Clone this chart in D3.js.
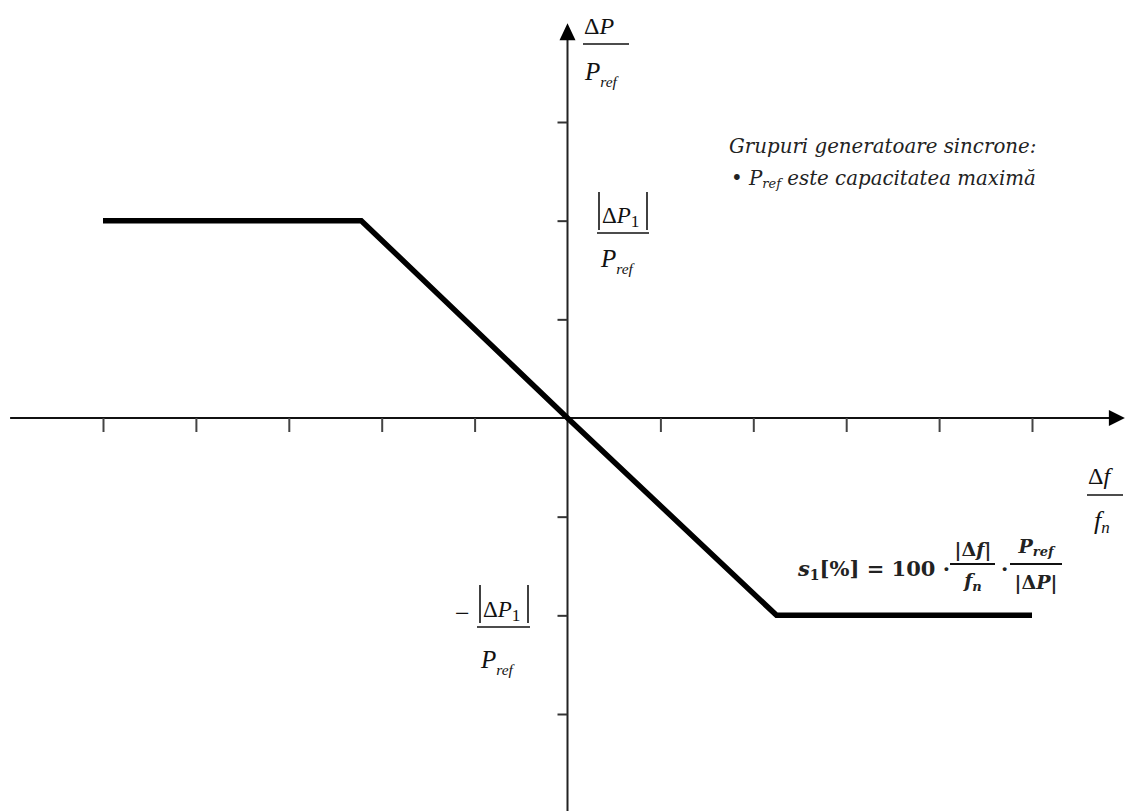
<!DOCTYPE html>
<meta charset="utf-8">
<style>
  body { margin: 0; background: #fff; }
  .lbl { font-family: "Liberation Serif", serif; fill: #111; }
  .note { font-family: "DejaVu Serif", serif; font-style: italic; fill: #222; }
  .eq { font-family: "DejaVu Serif", serif; font-weight: bold; fill: #222; }
</style>
<body>
<script src="https://cdnjs.cloudflare.com/ajax/libs/d3/7.8.5/d3.min.js"></script>
<script>
  // droop characteristic (per-unit)
  var droopX = [-5, -2.22, 0, 2.25, 5];
  var droopY = [2, 2, 0, -2, -2];
  var xTicks = [-5, -4, -3, -2, -1, 1, 2, 3, 4, 5];
  var yTicks = [-3, -2, -1, 1, 2, 3];
  var noteLines = ["Grupuri generatoare sincrone:", "este capacitatea maximă"];

  var width = 1134, height = 811;

  var x = d3.scaleLinear().domain([-5, 5]).range([103, 1032]);
  var y = d3.scaleLinear().domain([-3, 3]).range([714, 122]);

  var svg = d3.select("body").append("svg")
    .attr("width", width)
    .attr("height", height);

  // x axis line + arrow
  svg.append("line")
    .attr("x1", x(-6)).attr("x2", x(6) - 10)
    .attr("y1", y(0)).attr("y2", y(0))
    .attr("stroke", "#111").attr("stroke-width", 2);
  svg.append("path")
    .attr("d", "M" + x(6) + "," + y(0) + "l-16,-8l0,16z")
    .attr("fill", "#000");

  // y axis line + arrow
  svg.append("line")
    .attr("x1", x(0)).attr("x2", x(0))
    .attr("y1", y(-4)).attr("y2", y(4) + 10)
    .attr("stroke", "#222").attr("stroke-width", 2);
  svg.append("path")
    .attr("d", "M" + x(0) + "," + y(4) + "l-8,17l16,0z")
    .attr("fill", "#000");

  // ticks
  var gx = svg.append("g")
    .attr("transform", "translate(0," + y(0) + ")")
    .call(d3.axisBottom(x).tickValues(xTicks).tickSize(14).tickSizeOuter(0).tickFormat(""));
  gx.select(".domain").remove();
  gx.selectAll(".tick line").attr("stroke", "#444").attr("stroke-width", 2);

  var gy = svg.append("g")
    .attr("transform", "translate(" + x(0) + ",0)")
    .call(d3.axisLeft(y).tickValues(yTicks).tickSize(10).tickSizeOuter(0).tickFormat(""));
  gy.select(".domain").remove();
  gy.selectAll(".tick line").attr("stroke", "#333").attr("stroke-width", 2);

  // droop line
  var pts = droopX.map(function (d, i) { return [d, droopY[i]]; });
  svg.append("path")
    .datum(pts)
    .attr("fill", "none")
    .attr("stroke", "#000")
    .attr("stroke-width", 5.5)
    .attr("stroke-linejoin", "miter")
    .attr("d", d3.line().x(function (d) { return x(d[0]); }).y(function (d) { return y(d[1]); }));

  // helpers
  function pref(sel, px, py, size) {
    var t = sel.append("text").attr("class", "lbl").attr("x", px).attr("y", py)
      .style("font-size", size + "px").style("font-style", "italic");
    t.append("tspan").text("P");
    t.append("tspan").attr("dy", size * 0.28).style("font-size", (size * 0.62) + "px").text("ref");
    return t;
  }
  function bar(sel, x1, x2, yy, w) {
    sel.append("line").attr("x1", x1).attr("x2", x2).attr("y1", yy).attr("y2", yy)
      .attr("stroke", "#111").attr("stroke-width", w || 1.5);
  }
  function vbar(sel, xx, y1, y2) {
    sel.append("line").attr("x1", xx).attr("x2", xx).attr("y1", y1).attr("y2", y2)
      .attr("stroke", "#111").attr("stroke-width", 1.6);
  }
  function dp1(sel, px, py, size) {
    var t = sel.append("text").attr("class", "lbl").attr("x", px).attr("y", py)
      .style("font-size", size + "px");
    t.append("tspan").text("Δ");
    t.append("tspan").style("font-style", "italic").text("P");
    t.append("tspan").attr("dy", 4).style("font-size", (size * 0.75) + "px").text("1");
  }

  // y axis label ΔP / Pref
  var ly = svg.append("g");
  var t1 = ly.append("text").attr("class", "lbl").attr("x", 584).attr("y", 34).style("font-size", "24px");
  t1.append("tspan").text("Δ");
  t1.append("tspan").style("font-style", "italic").text("P");
  bar(ly, 583, 629, 44);
  pref(ly, 585, 80, 25);

  // x axis label Δf / fn
  var lx = svg.append("g");
  var t2 = lx.append("text").attr("class", "lbl").attr("x", 1088).attr("y", 484).style("font-size", "24px");
  t2.append("tspan").text("Δ");
  t2.append("tspan").style("font-style", "italic").text("f");
  bar(lx, 1087, 1123, 495);
  var t3 = lx.append("text").attr("class", "lbl").attr("x", 1094).attr("y", 529).style("font-size", "26px").style("font-style", "italic");
  t3.append("tspan").text("f");
  t3.append("tspan").attr("dy", 4).style("font-size", "17px").text("n");

  // upper level |ΔP1| / Pref
  var lu = svg.append("g");
  vbar(lu, 599, 192, 230);
  dp1(lu, 602, 223, 23);
  vbar(lu, 647, 192, 230);
  bar(lu, 597, 649, 233);
  pref(lu, 601, 267, 25);

  // lower level −|ΔP1| / Pref
  var ll = svg.append("g");
  ll.append("text").attr("class", "lbl").attr("x", 455).attr("y", 622).style("font-size", "26px").text("−");
  vbar(ll, 480, 585, 623);
  dp1(ll, 483, 617, 23);
  vbar(ll, 528, 585, 623);
  bar(ll, 477, 530, 627);
  pref(ll, 481, 668, 25);

  // note
  svg.append("text").attr("class", "note").attr("x", 729).attr("y", 153)
    .style("font-size", "19.8px").text(noteLines[0]);
  var n2 = svg.append("text").attr("class", "note").attr("x", 731).attr("y", 185).style("font-size", "19.8px");
  n2.append("tspan").style("font-style", "normal").text("• ");
  n2.append("tspan").text("P");
  n2.append("tspan").attr("dy", 3).style("font-size", "13px").text("ref");
  n2.append("tspan").attr("dy", -3).text(" " + noteLines[1]);

  // formula s1[%] = 100 · |Δf|/fn · Pref/|ΔP|
  var le = svg.append("g");
  var e1 = le.append("text").attr("class", "eq").attr("x", 798).attr("y", 576).style("font-size", "21px");
  e1.append("tspan").style("font-style", "italic").text("s");
  e1.append("tspan").attr("dy", 4).style("font-size", "14px").text("1");
  e1.append("tspan").attr("dy", -4).text("[%] = 100 ·");
  var e2 = le.append("text").attr("class", "eq").attr("x", 973).attr("y", 556).attr("text-anchor", "middle")
    .style("font-size", "19px");
  e2.append("tspan").text("|Δ");
  e2.append("tspan").style("font-style", "italic").text("f");
  e2.append("tspan").text("|");
  bar(le, 950, 995, 564, 1.8);
  var e3 = le.append("text").attr("class", "eq").attr("x", 973).attr("y", 587).attr("text-anchor", "middle")
    .style("font-size", "19px").style("font-style", "italic");
  e3.append("tspan").text("f");
  e3.append("tspan").attr("dy", 4).style("font-size", "13px").text("n");
  le.append("text").attr("class", "eq").attr("x", 1001).attr("y", 576).style("font-size", "21px").text("·");
  var e4 = le.append("text").attr("class", "eq").attr("x", 1036).attr("y", 553).attr("text-anchor", "middle")
    .style("font-size", "19px").style("font-style", "italic");
  e4.append("tspan").text("P");
  e4.append("tspan").attr("dy", 3).style("font-size", "13px").text("ref");
  bar(le, 1010, 1062, 564, 1.8);
  var e5 = le.append("text").attr("class", "eq").attr("x", 1036).attr("y", 589).attr("text-anchor", "middle")
    .style("font-size", "19px");
  e5.append("tspan").text("|Δ");
  e5.append("tspan").style("font-style", "italic").text("P");
  e5.append("tspan").text("|");
</script>
</body>
